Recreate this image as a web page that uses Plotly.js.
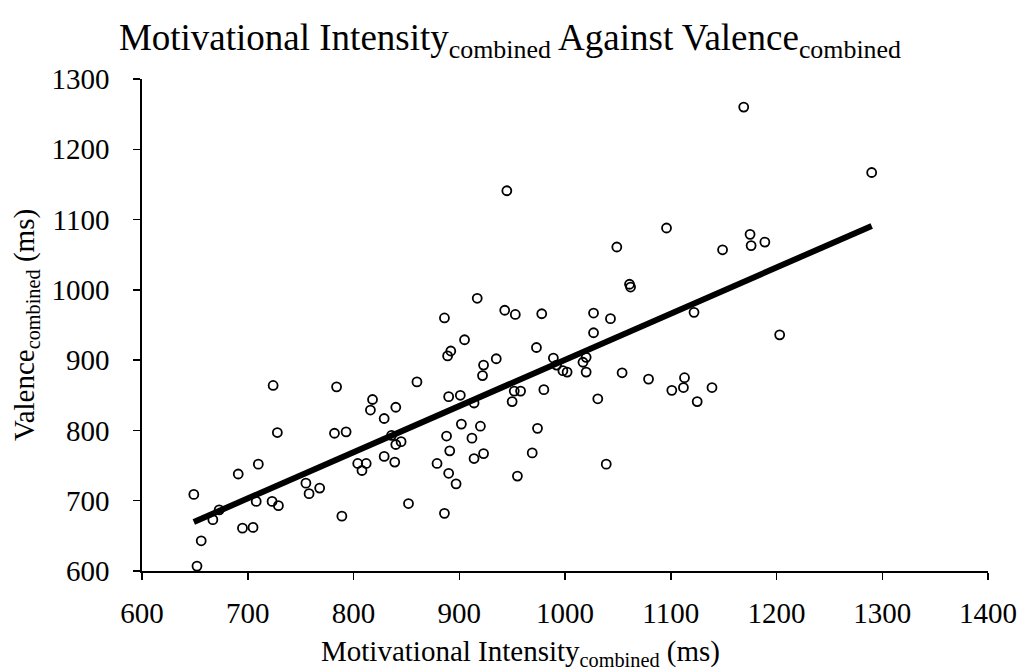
<!DOCTYPE html>
<html>
<head>
<meta charset="utf-8">
<script src="https://cdn.plot.ly/plotly-3.0.1.min.js"></script>
<style>html,body{margin:0;padding:0;background:#fff;}#chart{width:1024px;height:672px;}</style>
</head>
<body>
<div id="chart"></div>
<script>
// Motivational Intensity (combined), ms
const motivationalIntensity = [
  649,724,784,728,782,793,818,816,840,829,860,710,691,755,758,768,804,812,808,829,
  839,840,845,879,852,789,723,729,708,695,705,667,673,656,652,836,886,886,
  917,943,953,978,1027,1043,1122,1027,905,892,889,923,922,935,973,989,992,998,1002,
  1017,1020,1020,1054,1079,1101,1112,1113,1139,1125,1031,980,952,958,950,890,901,914,
  902,920,888,912,974,891,923,914,969,890,897,955,1039,
  945,1096,1049,1061,1062,1169,1290,1175,1176,1189,1149,1203
];
// Valence (combined), ms
const valence = [
  709,864,862,797,796,798,844,829,833,817,869,752,738,725,710,718,753,753,743,763,
  755,780,784,753,696,678,699,693,699,661,662,673,687,643,607,793,960,682,
  988,971,965,966,967,959,968,939,929,913,906,893,878,902,918,903,893,885,883,
  897,904,883,882,873,857,861,875,861,841,845,858,856,856,841,848,850,839,
  809,806,792,789,803,771,767,760,768,739,724,735,752,
  1141,1088,1061,1008,1004,1260,1167,1079,1063,1068,1057,936
];
const xTicks = [600,700,800,900,1000,1100,1200,1300,1400];
const yTicks = [600,700,800,900,1000,1100,1200,1300];

// least-squares linear trend from the data
const n = motivationalIntensity.length;
const mx = motivationalIntensity.reduce((a,b)=>a+b,0)/n;
const my = valence.reduce((a,b)=>a+b,0)/n;
let sxy=0, sxx=0;
for (let i=0;i<n;i++){ sxy+=(motivationalIntensity[i]-mx)*(valence[i]-my); sxx+=(motivationalIntensity[i]-mx)**2; }
const slope = sxy/sxx, intercept = my - slope*mx;
const xmin = Math.min(...motivationalIntensity), xmax = Math.max(...motivationalIntensity);
const trendX = [xmin, xmax];
const trendY = trendX.map(x=>intercept+slope*x);

const font = 'Liberation Serif, Times New Roman, serif';
const data = [
  {
    x: trendX, y: trendY, mode: 'lines', type: 'scatter',
    line: {color: '#000', width: 6}, hoverinfo: 'skip', showlegend: false
  },
  {
    x: motivationalIntensity, y: valence, mode: 'markers', type: 'scatter',
    marker: {symbol: 'circle', size: 9, color: 'rgba(255,255,255,0)', line: {color: '#000', width: 1.8}},
    showlegend: false
  }
];
const layout = {
  width: 1024, height: 672,
  paper_bgcolor: '#fff', plot_bgcolor: '#fff',
  margin: {l: 141.5, r: 35.5, t: 79.3, b: 101.3},
  font: {family: font, color: '#000', size: 29},
  title: {
    text: 'Motivational Intensity<sub>combined</sub> Against Valence<sub>combined</sub>',
    font: {family: font, size: 37, color: '#000'},
    x: 0.498, xref: 'container', xanchor: 'center', y: 0.945, yref: 'container', yanchor: 'middle'
  },
  xaxis: {
    range: [600, 1400], tickvals: xTicks, ticktext: xTicks.map(String),
    showgrid: false, zeroline: false, showline: true, linecolor: '#000', linewidth: 1.8,
    ticks: 'outside', ticklen: 7, tickwidth: 1.5, tickcolor: '#000', ticklabelstandoff: 8,
    tickfont: {family: font, size: 29, color: '#000'}
  },
  yaxis: {
    range: [600, 1300], tickvals: yTicks, ticktext: yTicks.map(String),
    showgrid: false, zeroline: false, showline: true, linecolor: '#000', linewidth: 1.8,
    ticks: 'outside', ticklen: 7, tickwidth: 1.5, tickcolor: '#000', ticklabelstandoff: 18,
    tickfont: {family: font, size: 29, color: '#000'},
    title: {text: 'Valence<sub>combined</sub> (ms)', font: {family: font, size: 29, color: '#000'}, standoff: 8}
  },
  annotations: [{
    text: 'Motivational Intensity<sub>combined</sub> (ms)',
    xref: 'paper', yref: 'paper', x: 0.447, y: -0.126, xanchor: 'center', yanchor: 'top',
    showarrow: false, font: {family: font, size: 29, color: '#000'}
  }]
};
Plotly.newPlot('chart', data, layout, {displayModeBar: false, staticPlot: true});
</script>
</body>
</html>
